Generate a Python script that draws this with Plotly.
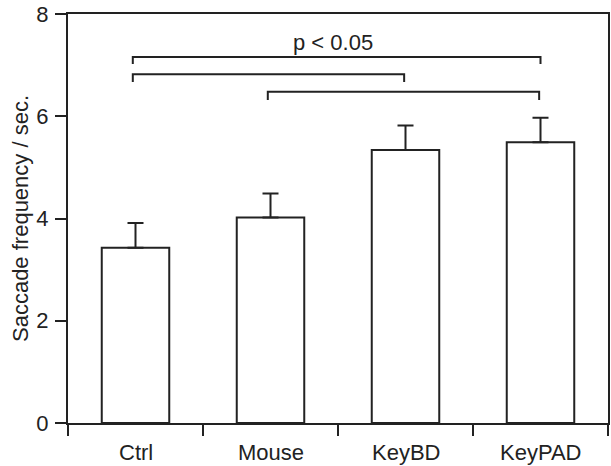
import plotly.graph_objects as go

categories = ["Ctrl", "Mouse", "KeyBD", "KeyPAD"]
means = [3.43, 4.02, 5.34, 5.49]
errors = [0.48, 0.47, 0.48, 0.48]

y_tick_vals = [0, 2, 4, 6, 8]

# significance brackets: left/right category positions, bar height, drop
bracket_left = [-0.02, -0.02, 0.98]
bracket_right = [3.0, 1.99, 2.99]
bracket_y = [7.16, 6.82, 6.48]
bracket_drop = [0.14, 0.15, 0.16]
sig_label = "p < 0.05"

INK = "#222222"
FONT = "Liberation Sans, Arial, sans-serif"
FS = 22

fig = go.Figure()
fig.add_trace(go.Bar(
    x=list(range(len(categories))), y=means, width=0.5,
    marker=dict(color="white", line=dict(color=INK, width=2)),
    error_y=dict(type="data", symmetric=False, array=errors,
                 arrayminus=[0] * len(errors), color=INK, thickness=2, width=8),
    showlegend=False,
))

for xl, xr, yb, d in zip(bracket_left, bracket_right, bracket_y, bracket_drop):
    fig.add_trace(go.Scatter(
        x=[xl, xl, xr, xr], y=[yb - d, yb, yb, yb - d], mode="lines",
        line=dict(color=INK, width=2), showlegend=False, hoverinfo="skip",
    ))

fig.add_annotation(x=1.46, y=7.44, text=sig_label, showarrow=False,
                   font=dict(size=FS, color=INK, family=FONT), yanchor="middle")

fig.update_layout(
    width=611, height=466,
    margin=dict(l=68, r=1, t=14, b=43),
    paper_bgcolor="white", plot_bgcolor="white",
    font=dict(family=FONT, size=FS, color=INK),
    xaxis=dict(
        range=[-0.5, 3.5], tickmode="array",
        tickvals=[-0.5, 0.5, 1.5, 2.5, 3.5],
        ticktext=["", "", "", "", ""],
        ticks="outside", ticklen=11, tickwidth=1.5, tickcolor=INK,
        showline=True, linecolor=INK, linewidth=2, mirror=True,
        showgrid=False, zeroline=False,
    ),
    yaxis=dict(
        range=[0, 8], tickvals=y_tick_vals,
        ticks="outside", ticklen=11, tickwidth=1.5, tickcolor=INK,
        ticklabelstandoff=2,
        showline=True, linecolor=INK, linewidth=2, mirror=True,
        showgrid=False, zeroline=False,
        title=dict(text="Saccade frequency / sec.", standoff=2,
                   font=dict(size=FS, color=INK, family=FONT)),
    ),
)

for i, c in enumerate(categories):
    fig.add_annotation(x=i, y=0, yref="y", text=c, showarrow=False,
                       yanchor="top", yshift=-15,
                       font=dict(size=FS, color=INK, family=FONT))

fig.write_html("out.html")
